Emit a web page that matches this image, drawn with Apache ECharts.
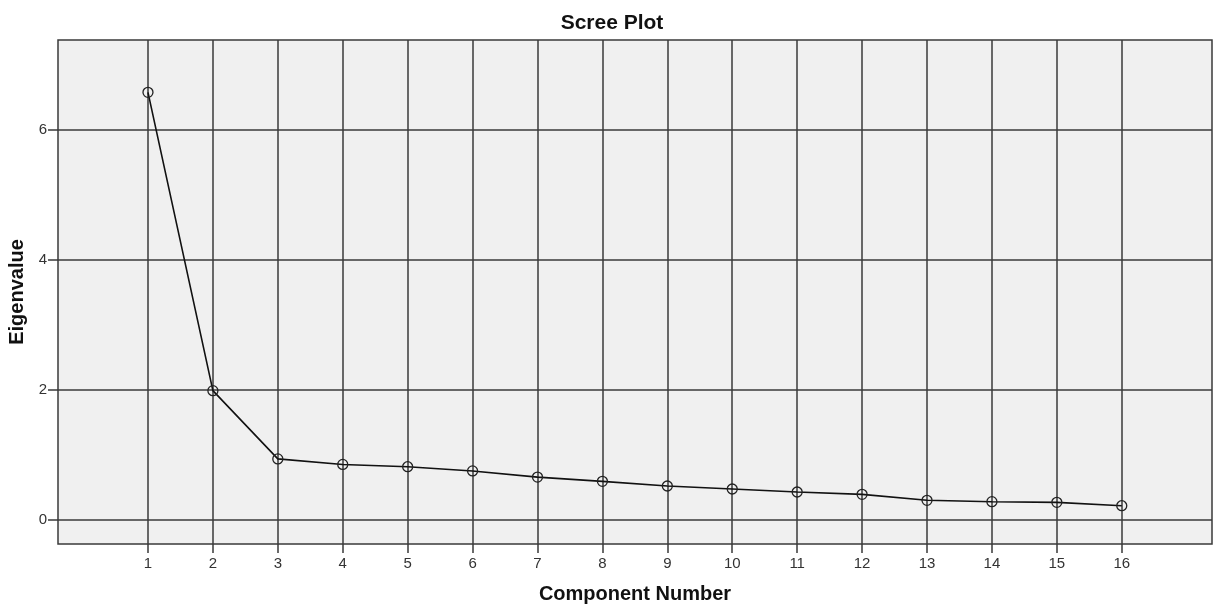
<!DOCTYPE html>
<html><head><meta charset="utf-8">
<script src="https://cdn.jsdelivr.net/npm/echarts@6/dist/echarts.min.js"></script>
<style>html,body{margin:0;padding:0;background:#fff}#c{width:1224px;height:610px}</style>
</head><body><div id="c"></div>
<script>
const components = [1,2,3,4,5,6,7,8,9,10,11,12,13,14,15,16];
const eigenvalues = [6.58,1.99,0.94,0.855,0.82,0.755,0.66,0.595,0.523,0.477,0.431,0.395,0.303,0.282,0.272,0.22];
const yTicks = [0,2,4,6];

const chart = echarts.init(document.getElementById('c'));
const gridColor = '#3a3a3a';
const font = 'Liberation Sans';
chart.setOption({
  animation: false,
  title: {text: 'Scree Plot', left: 'center', top: 8,
    textStyle: {fontFamily: font, fontSize: 21, fontWeight: 'bold', color: '#111'}},
  grid: {left: 58, right: 12, top: 40, bottom: 66, show: true, backgroundColor: '#f0f0f0',
    borderColor: gridColor, borderWidth: 1.5, outerBoundsMode: 'none', containLabel: false},
  xAxis: {type: 'value', min: -0.386, max: 17.39,
    name: 'Component Number', nameLocation: 'middle', nameGap: 40,
    nameTextStyle: {fontFamily: font, fontSize: 20, fontWeight: 'bold', color: '#111'},
    axisLine: {show: false, onZero: false},
    axisTick: {show: true, customValues: components, length: 9, lineStyle: {color: gridColor, width: 1.5}},
    axisLabel: {customValues: components, fontFamily: font, fontSize: 15, color: '#333', margin: 12},
    splitLine: {show: true, lineStyle: {color: gridColor, width: 1.5}}
  },
  yAxis: {type: 'value', min: -0.369, max: 7.385,
    name: 'Eigenvalue', nameLocation: 'middle', nameGap: 24, nameRotate: 90,
    nameTextStyle: {fontFamily: font, fontSize: 20, fontWeight: 'bold', color: '#111'},
    axisLine: {show: false, onZero: false},
    axisTick: {show: true, customValues: yTicks, length: 10, lineStyle: {color: gridColor, width: 1.5}},
    axisLabel: {customValues: yTicks, fontFamily: font, fontSize: 15, color: '#333', margin: 11},
    splitLine: {show: true, lineStyle: {color: gridColor, width: 1.5}}
  },
  series: [{type: 'line', data: components.map((c,i)=>[c, eigenvalues[i]]),
    symbol: 'circle', symbolSize: 10,
    lineStyle: {color: '#111', width: 1.6},
    itemStyle: {color: 'rgba(0,0,0,0)', borderColor: '#222', borderWidth: 1.3}
  }]
});
</script></body></html>
